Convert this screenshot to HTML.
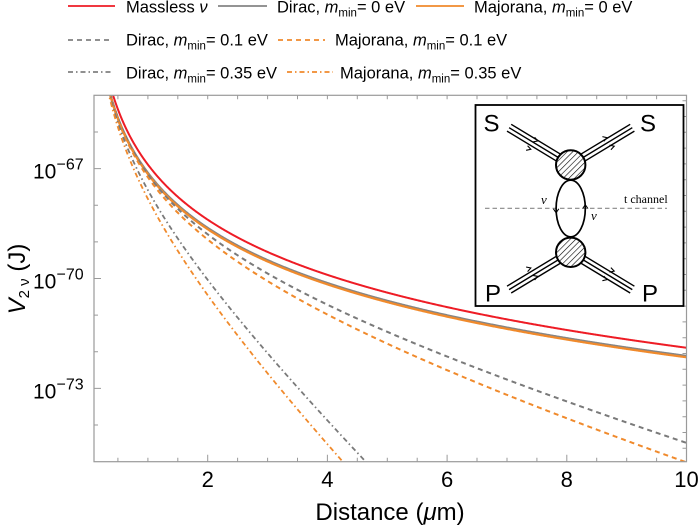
<!DOCTYPE html>
<html><head><meta charset="utf-8"><style>
html,body{margin:0;padding:0;background:#fff;width:700px;height:530px;overflow:hidden;}
svg{display:block;}
text{font-family:"Liberation Sans",Arial,sans-serif;fill:#000;}
.ser{font-family:"Liberation Serif","Times New Roman",serif;}
</style></head><body>
<svg width="700" height="530" viewBox="0 0 700 530" xmlns="http://www.w3.org/2000/svg">
<defs>
<clipPath id="pc"><rect x="94" y="95.3" width="592.5" height="366.4"/></clipPath>
<pattern id="hatch" width="4" height="4" patternUnits="userSpaceOnUse" patternTransform="rotate(45)"><rect width="4" height="4" fill="#fff"/><line x1="0" y1="0" x2="0" y2="4" stroke="#000" stroke-width="1.2"/></pattern>
</defs>
<rect width="700" height="530" fill="#fff"/>
<g stroke-width="1.8" fill="none">
<path d="M68 6H115" stroke="#ee1c25"/>
<path d="M218 6H267" stroke="#858585"/>
<path d="M416 6H464" stroke="#f08a2c"/>
<path d="M68 40H113" stroke="#808080" stroke-dasharray="5 4"/>
<path d="M278 40H325" stroke="#f08a2c" stroke-dasharray="5 4"/>
<path d="M68 72H112" stroke="#808080" stroke-dasharray="5 3 1.5 3"/>
<path d="M287 72H333" stroke="#f08a2c" stroke-dasharray="5 3 1.5 3"/>
</g>
<g font-size="16.5">
<text x="126" y="12.5">Massless <tspan font-style="italic">ν</tspan></text>
<text x="277" y="12.5">Dirac, <tspan font-style="italic">m</tspan><tspan font-size="11.5" dy="4">min</tspan><tspan dy="-4">= 0 eV</tspan></text>
<text x="474" y="12.5">Majorana, <tspan font-style="italic">m</tspan><tspan font-size="11.5" dy="4">min</tspan><tspan dy="-4">= 0 eV</tspan></text>
<text x="126" y="45.7">Dirac, <tspan font-style="italic">m</tspan><tspan font-size="11.5" dy="4">min</tspan><tspan dy="-4">= 0.1 eV</tspan></text>
<text x="335" y="45.7">Majorana, <tspan font-style="italic">m</tspan><tspan font-size="11.5" dy="4">min</tspan><tspan dy="-4">= 0.1 eV</tspan></text>
<text x="126" y="78.3">Dirac, <tspan font-style="italic">m</tspan><tspan font-size="11.5" dy="4">min</tspan><tspan dy="-4">= 0.35 eV</tspan></text>
<text x="340" y="78.3">Majorana, <tspan font-style="italic">m</tspan><tspan font-size="11.5" dy="4">min</tspan><tspan dy="-4">= 0.35 eV</tspan></text>
</g>
<g id="curves" clip-path="url(#pc)" fill="none" stroke-linejoin="round"></g>
<rect x="94" y="95.3" width="592.5" height="366.4" fill="none" stroke="#9a9a9a" stroke-width="1.2"/>
<path stroke="#9a9a9a" stroke-width="1" fill="none" d="M94 131.94h4M94 168.58h7M94 205.22h4M94 241.86h4M94 278.5h7M94 315.14h4M94 351.78h4M94 388.42h7M94 425.06h4"/>
<path stroke="#9a9a9a" stroke-width="1" fill="none" d="M117.9 461.7v-4M147.9 461.7v-4M177.8 461.7v-4M207.7 461.7v-7M237.6 461.7v-4M267.6 461.7v-4M297.5 461.7v-4M327.4 461.7v-7M357.3 461.7v-4M387.3 461.7v-4M417.2 461.7v-4M447.1 461.7v-7M477 461.7v-4M507 461.7v-4M536.9 461.7v-4M566.8 461.7v-7M596.7 461.7v-4M626.7 461.7v-4M656.6 461.7v-4"/>
<path stroke="#9a9a9a" stroke-width="1" fill="none" d="M117.9 95.3v4M147.9 95.3v4M177.8 95.3v4M207.7 95.3v4M237.6 95.3v4M267.6 95.3v4M297.5 95.3v4M327.4 95.3v4M357.3 95.3v4M387.3 95.3v4M417.2 95.3v4M447.1 95.3v4M477 95.3v4M507 95.3v4M536.9 95.3v4M566.8 95.3v4M596.7 95.3v4M626.7 95.3v4M656.6 95.3v4"/>
<path stroke="#9a9a9a" stroke-width="1" fill="none" d="M686.5 100.7h-4M686.5 116.5h-4M686.5 132.3h-4M686.5 148.1h-4M686.5 163.9h-4M686.5 179.7h-4M686.5 195.5h-4M686.5 211.3h-4M686.5 227.1h-4M686.5 242.9h-4M686.5 258.7h-4M686.5 274.5h-4M686.5 290.3h-4M686.5 306.1h-4M686.5 321.9h-4M686.5 337.7h-4M686.5 353.5h-4M686.5 369.3h-4M686.5 385.1h-4M686.5 400.9h-4M686.5 416.7h-4M686.5 432.5h-4M686.5 448.3h-4"/>
<g font-size="21">
<text x="33" y="178.5">10</text><text x="56.5" y="169.5" font-size="16">−67</text>
<text x="33" y="288.5">10</text><text x="56.5" y="279.5" font-size="16">−70</text>
<text x="33" y="398.5">10</text><text x="56.5" y="389.5" font-size="16">−73</text>
</g>
<g font-size="22" text-anchor="middle">
<text x="207.7" y="487">2</text><text x="327.4" y="487">4</text><text x="447.1" y="487">6</text><text x="566.8" y="487">8</text><text x="686.5" y="487">10</text>
</g>
<text x="390" y="520" font-size="24" text-anchor="middle">Distance (<tspan font-style="italic">μ</tspan>m)</text>
<text transform="translate(25,279) rotate(-90)" font-size="24" text-anchor="middle"><tspan font-style="italic">V</tspan><tspan font-size="15" dy="4">2 ν</tspan><tspan dy="-4"> (J)</tspan></text>
<rect x="475.5" y="105" width="208" height="201" fill="#fff" stroke="#000" stroke-width="1.8"/>
<path d="M485 208.3H667" stroke="#888" stroke-width="1.1" stroke-dasharray="4.5 3"/>
<text x="624" y="203" class="ser" font-size="12" fill="#222">t channel</text>
<path stroke="#000" stroke-width="1.4" fill="none" d="M572.77 161.58L511.2 124.3M570.7 165L509.1 127.7M568.63 168.42L507 131.1M568.63 161.58L630.2 124.3M570.7 165L632.3 127.7M572.77 168.42L634.4 131.1M568.63 248.88L507 286.2M570.7 252.3L509.1 289.6M572.77 255.72L511.2 293M572.77 248.88L634.4 286.2M570.7 252.3L632.3 289.6M568.63 255.72L630.2 293"/>
<path stroke="#000" stroke-width="1.1" fill="none" d="M534.6 137.3L537.8 140.9L533.1 141.9M527.6 145.7L530.8 149.3L526.1 150.3M603.8 141.2L607.1 137.7L602.4 136.6M610.9 149.7L614.2 146.2L609.5 145.1M534.6 280L537.8 276.4L533.1 275.4M527.6 271.6L530.8 268L526.1 267M603.8 276.1L607.1 279.6L602.4 280.7M610.9 267.6L614.2 271.1L609.5 272.2"/>
<ellipse cx="570.7" cy="208.5" rx="14.6" ry="28.3" fill="none" stroke="#000" stroke-width="1.7"/>
<path d="M553.4 208.8L556.1 212.8L558.8 208.8M582.6 208.6L585.3 204.6L588 208.6" fill="none" stroke="#000" stroke-width="1"/>
<text x="541" y="204" class="ser" font-style="italic" font-size="13">ν</text>
<text x="591" y="220" class="ser" font-style="italic" font-size="13">ν</text>
<circle cx="570.7" cy="165" r="14.7" fill="url(#hatch)" stroke="#000" stroke-width="2"/>
<circle cx="570.7" cy="252.3" r="14.7" fill="url(#hatch)" stroke="#000" stroke-width="2"/>
<g font-size="24" text-anchor="middle">
<text x="491.5" y="131.5">S</text><text x="648" y="131.5">S</text><text x="493" y="301.5">P</text><text x="650" y="301.5">P</text>
</g>
</svg>
<script>
(function(){
var NS="http://www.w3.org/2000/svg";
var X0=94,X1=686.5,Y0=95.3,Y1=461.7;
function px(d){return X0+(d-0.1)/9.9*(X1-X0);}
function py(L){return Y0+(-65-L)/10*(Y1-Y0);}
function K(nu,z){
  var h=0.004,s=0,t=0,emax=-1e9;
  for(var i=0;i<20000;i++){
    var e=-z*Math.cosh(t)+nu*t;
    if(e>emax)emax=e;
    s+=(i===0?0.5:1)*Math.exp(e)*(1+Math.exp(-2*nu*t))/2;
    if(t>0.5&&e<emax-60)break;
    t+=h;
  }
  return s*h;
}
var hc=0.2055;
function Lr(d){return -66.89-5*Math.log10(d);}
function rD(z){return Math.log10(z*z*z*K(3,z)/8);}
function rM(z){return Math.log10(z*z*K(2,z)/2);}
var curves=[
 [function(d){return Lr(d);},"#ee1c25",2,""],
 [function(d){return Lr(d)-0.22;},"#858585",2,""],
 [function(d){return Lr(d)-0.26;},"#f08a2c",2.2,""],
 [function(d){return Lr(d)-0.22+rD(0.2*d/hc);},"#7a7a7a",2,"5 4"],
 [function(d){return Lr(d)-0.26+rM(0.2*d/hc);},"#f08a2c",2,"5 4"],
 [function(d){return Lr(d)-0.22+rD(0.7*d/hc);},"#7a7a7a",1.8,"5 3 1.5 3"],
 [function(d){return Lr(d)-0.26+rM(0.7*d/hc);},"#f08a2c",1.8,"5 3 1.5 3"]
];
var g=document.getElementById("curves");
curves.forEach(function(cv){
  var pts=[];
  for(var d=0.1;d<=10.0001;d+=0.01){
    var y=py(cv[0](d));
    if(y<Y0-4)y=Y0-4;
    if(y>Y1+4)y=Y1+4;
    pts.push(px(d).toFixed(2)+","+y.toFixed(2));
  }
  var p=document.createElementNS(NS,"polyline");
  p.setAttribute("points",pts.join(" "));
  p.setAttribute("stroke",cv[1]);
  p.setAttribute("stroke-width",cv[2]);
  if(cv[3])p.setAttribute("stroke-dasharray",cv[3]);
  g.appendChild(p);
});
})();
</script>
</body></html>
